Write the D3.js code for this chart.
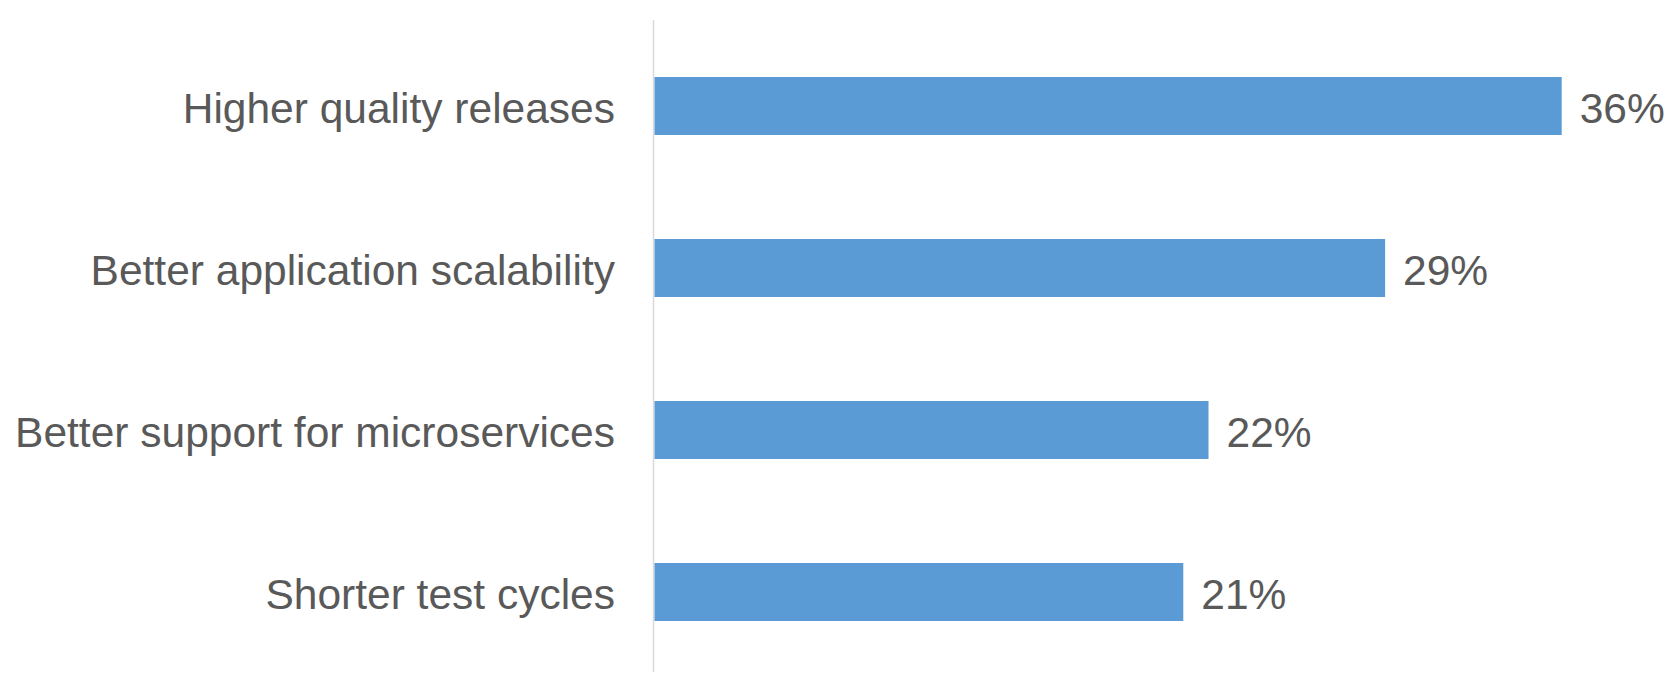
<!DOCTYPE html>
<html>
<head>
<meta charset="utf-8">
<script src="https://cdn.jsdelivr.net/npm/d3@7"></script>
<style>
  html, body { margin: 0; padding: 0; background: #fff; }
  svg { display: block; }
</style>
</head>
<body>
<svg id="chart" width="1669" height="675"></svg>
<script>
const categories = ["Higher quality releases", "Better application scalability", "Better support for microservices", "Shorter test cycles"];
const values = [36, 29, 22, 21];
const valueLabels = ["36%", "29%", "22%", "21%"];

const svg = d3.select("#chart");
const axisX = 653.5;
const x = d3.scaleLinear().domain([0, 36]).range([axisX, 1561.7]);
const y = d3.scaleBand().domain(categories).range([25, 673]).paddingInner(0.642).paddingOuter(0.321);

const font = "'Liberation Sans', Arial, Helvetica, sans-serif";
const textColor = "#595959";
const fontSize = 42.5;

// axis line
svg.append("line")
  .attr("x1", axisX).attr("x2", axisX)
  .attr("y1", 20).attr("y2", 672)
  .attr("stroke", "#D9D9D9").attr("stroke-width", 1.5);

// bars
svg.selectAll("rect.bar").data(categories).enter().append("rect")
  .attr("class", "bar")
  .attr("x", x(0) + 1)
  .attr("y", d => y(d))
  .attr("width", (d, i) => x(values[i]) - x(0) - 1)
  .attr("height", y.bandwidth())
  .attr("fill", "#5B9BD5");

// category labels
svg.selectAll("text.cat").data(categories).enter().append("text")
  .attr("class", "cat")
  .attr("x", 615)
  .attr("y", d => y(d) + y.bandwidth() / 2 + 17)
  .attr("text-anchor", "end")
  .attr("font-family", font)
  .attr("font-size", fontSize)
  .attr("fill", textColor)
  .text(d => d);

// value labels
svg.selectAll("text.val").data(categories).enter().append("text")
  .attr("class", "val")
  .attr("x", (d, i) => x(values[i]) + 18)
  .attr("y", d => y(d) + y.bandwidth() / 2 + 17)
  .attr("text-anchor", "start")
  .attr("font-family", font)
  .attr("font-size", fontSize)
  .attr("fill", textColor)
  .text((d, i) => valueLabels[i]);
</script>
</body>
</html>
